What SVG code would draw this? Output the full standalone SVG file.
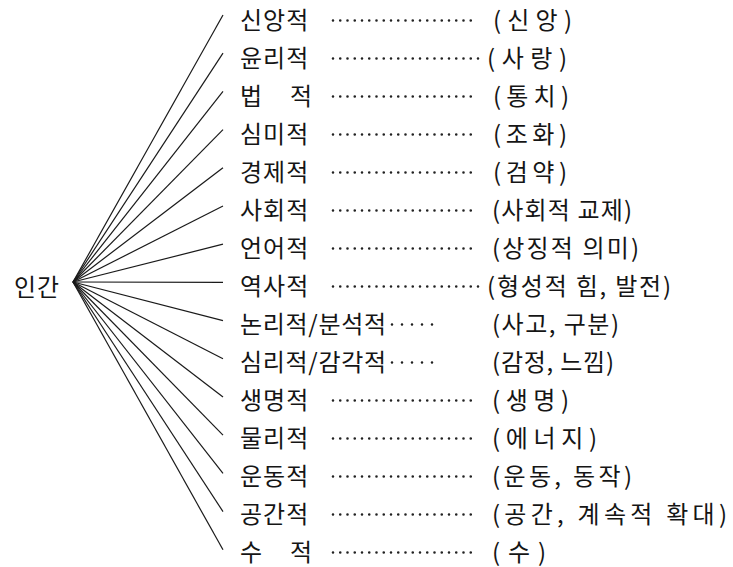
<svg xmlns="http://www.w3.org/2000/svg" width="733" height="567" viewBox="0 0 733 567">
<style>
text{font-family:"Noto Sans CJK KR","Noto Sans CJK SC",sans-serif;font-size:24px;fill:#151515;letter-spacing:1px}
.c line{stroke:#1a1a1a;stroke-width:1.2}
.d{stroke:#222;stroke-width:2.6;stroke-linecap:round;stroke-dasharray:0 7.25;fill:none}
.d6{stroke:#222;stroke-width:2.6;stroke-linecap:round;stroke-dasharray:0 10;fill:none}
</style>
<rect width="733" height="567" fill="#fff"/>
<g id="root"><text x="14" y="295.5" textLength="46" lengthAdjust="spacingAndGlyphs">인간</text></g>
<g class="c" id="connectors">
<line x1="73" y1="282" x2="223" y2="15"/>
<line x1="73" y1="282" x2="223" y2="53.2"/>
<line x1="73" y1="282" x2="223" y2="91.4"/>
<line x1="73" y1="282" x2="223" y2="129.6"/>
<line x1="73" y1="282" x2="223" y2="167.8"/>
<line x1="73" y1="282" x2="223" y2="206"/>
<line x1="73" y1="282" x2="223" y2="244.2"/>
<line x1="73" y1="282" x2="223" y2="282.4"/>
<line x1="73" y1="282" x2="223" y2="320.6"/>
<line x1="73" y1="282" x2="223" y2="358.8"/>
<line x1="73" y1="282" x2="223" y2="397"/>
<line x1="73" y1="282" x2="223" y2="435.2"/>
<line x1="73" y1="282" x2="223" y2="473.4"/>
<line x1="73" y1="282" x2="223" y2="511.6"/>
<line x1="73" y1="282" x2="223" y2="549.8"/>
</g>
<g id="r1"><text x="240" y="29.2">신앙적</text><line class="d" x1="333" y1="20.5" x2="478" y2="20.5"/><text x="493" y="29.2" textLength="80">(신앙)</text></g>
<g id="r2"><text x="240" y="67.2">윤리적</text><line class="d" x1="333" y1="58.5" x2="485" y2="58.5"/><text x="487" y="67.2" textLength="81">(사랑)</text></g>
<g id="r3"><text x="240" y="105.2">법 <tspan x="290">적</tspan></text><line class="d" x1="333" y1="96.5" x2="478" y2="96.5"/><text x="493" y="105.2" textLength="77">(통치)</text></g>
<g id="r4"><text x="240" y="143.2">심미적</text><line class="d" x1="333" y1="134.5" x2="478" y2="134.5"/><text x="493" y="143.2" textLength="75">(조화)</text></g>
<g id="r5"><text x="240" y="181.2">경제적</text><line class="d" x1="333" y1="172.5" x2="478" y2="172.5"/><text x="493" y="181.2" textLength="75">(검약)</text></g>
<g id="r6"><text x="240" y="219.2">사회적</text><line class="d" x1="333" y1="210.5" x2="478" y2="210.5"/><text x="492" y="219.2" textLength="141">(사회적 교제)</text></g>
<g id="r7"><text x="240" y="257.2">언어적</text><line class="d" x1="333" y1="248.5" x2="478" y2="248.5"/><text x="492" y="257.2" textLength="148">(상징적 의미)</text></g>
<g id="r8"><text x="240" y="295.2">역사적</text><line class="d" x1="333" y1="286.5" x2="483" y2="286.5"/><text x="487" y="295.2" textLength="185">(형성적 힘, 발전)</text></g>
<g id="r9"><text x="240" y="333.2" textLength="147">논리적/분석적</text><line class="d6" x1="392" y1="324.5" x2="442" y2="324.5"/><text x="492" y="333.2" textLength="128">(사고, 구분)</text></g>
<g id="r10"><text x="240" y="371.2" textLength="147">심리적/감각적</text><line class="d6" x1="392" y1="362.5" x2="442" y2="362.5"/><text x="492" y="371.2" textLength="123">(감정, 느낌)</text></g>
<g id="r11"><text x="240" y="409.2">생명적</text><line class="d" x1="333" y1="400.5" x2="478" y2="400.5"/><text x="492" y="409.2" textLength="78">(생명)</text></g>
<g id="r12"><text x="240" y="447.2">물리적</text><line class="d" x1="333" y1="438.5" x2="478" y2="438.5"/><text x="492" y="447.2" textLength="106">(에너지)</text></g>
<g id="r13"><text x="240" y="485.2">운동적</text><line class="d" x1="333" y1="476.5" x2="478" y2="476.5"/><text x="492" y="485.2" textLength="141">(운동, 동작)</text></g>
<g id="r14"><text x="240" y="523.2">공간적</text><line class="d" x1="333" y1="514.5" x2="478" y2="514.5"/><text x="492" y="523.2" textLength="236">(공간, 계속적 확대)</text></g>
<g id="r15"><text x="240" y="561.2">수 <tspan x="290">적</tspan></text><line class="d" x1="333" y1="552.5" x2="478" y2="552.5"/><text x="492" y="561.2" textLength="55">(수)</text></g>
</svg>
